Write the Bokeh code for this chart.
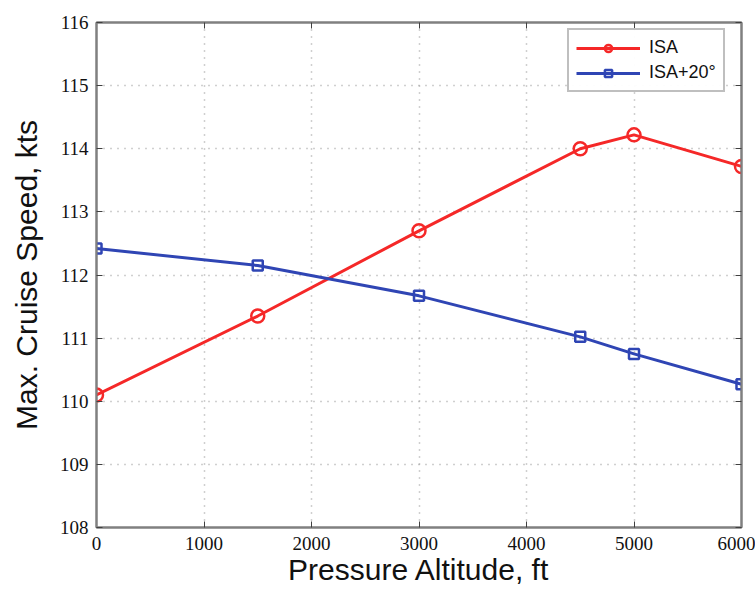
from bokeh.plotting import figure
from bokeh.models import (FixedTicker, LinearAxis, Range1d, Legend, LegendItem,
                          CustomJSTickFormatter)
from bokeh.embed import file_html
from bokeh.resources import INLINE

altitude = [0, 1500, 3000, 4500, 5000, 6000]
isa_speed = [110.1, 111.35, 112.7, 114.0, 114.22, 113.72]
isa20_speed = [112.42, 112.15, 111.67, 111.02, 110.75, 110.27]
x_ticks = [0, 1000, 2000, 3000, 4000, 5000, 6000]
y_ticks = [108, 109, 110, 111, 112, 113, 114, 115, 116]

RED = "#f52828"
BLUE = "#2f45b4"
GRAY = "#808080"

p = figure(width=755, height=591, output_backend="svg", toolbar_location=None,
           x_range=Range1d(0, 6000), y_range=Range1d(108, 116),
           min_border_left=96, min_border_right=14, min_border_top=22, min_border_bottom=64)
p.background_fill_color = "white"
p.border_fill_color = "white"
p.outline_line_color = GRAY
p.outline_line_width = 2

font = "Liberation Sans"
narrow = "Liberation Sans Narrow"

for ax in (p.xaxis[0], p.yaxis[0]):
    ax.axis_line_color = GRAY
    ax.axis_line_width = 2
    ax.major_tick_in = 6
    ax.major_tick_out = 0
    ax.minor_tick_line_color = None
    ax.major_tick_line_color = "#404040"
    ax.major_label_text_font = narrow
    ax.major_label_text_font_size = "19px"
    ax.major_label_text_color = "#111111"
    ax.axis_label_text_font = font
    ax.axis_label_text_font_size = "30px"
    ax.axis_label_text_font_style = "normal"
    ax.axis_label_text_color = "#111111"

p.xaxis.ticker = FixedTicker(ticks=x_ticks)
p.yaxis.ticker = FixedTicker(ticks=y_ticks)
p.xaxis.axis_label = "Pressure Altitude, ft"
p.yaxis.axis_label = "Max. Cruise Speed, kts"
p.xaxis.major_label_standoff = 9
p.xaxis.axis_label_standoff = 0
p.yaxis.major_label_standoff = 8
p.yaxis.axis_label_standoff = 14

blank = CustomJSTickFormatter(code="return ''")
top = LinearAxis(ticker=FixedTicker(ticks=x_ticks), formatter=blank,
                 major_tick_in=6, major_tick_out=0, minor_tick_line_color=None,
                 axis_line_color=GRAY, axis_line_width=2, major_tick_line_color="#404040",
                 major_label_standoff=0)
right = LinearAxis(ticker=FixedTicker(ticks=y_ticks), formatter=blank,
                   major_tick_in=6, major_tick_out=0, minor_tick_line_color=None,
                   axis_line_color=GRAY, axis_line_width=2, major_tick_line_color="#404040",
                   major_label_standoff=0)
p.add_layout(top, "above")
p.add_layout(right, "right")

p.xgrid.ticker = FixedTicker(ticks=x_ticks)
p.ygrid.ticker = FixedTicker(ticks=y_ticks)
for g in (p.xgrid[0], p.ygrid[0]):
    g.grid_line_color = "#a0a0a0"
    g.grid_line_dash = "1 6"
    g.grid_line_width = 1.5

l1 = p.line(altitude, isa_speed, line_color=RED, line_width=3)
m1 = p.scatter(altitude, isa_speed, marker="circle", size=13, line_color=RED,
               line_width=2.5, fill_color=None)
l2 = p.line(altitude, isa20_speed, line_color=BLUE, line_width=3)
m2 = p.scatter(altitude, isa20_speed, marker="square", size=10, line_color=BLUE,
               line_width=2.5, fill_color=None)

legend = Legend(items=[LegendItem(label="ISA", renderers=[l1, m1]),
                       LegendItem(label="ISA+20°", renderers=[l2, m2])],
                location=(471, 435))
legend.label_text_font = font
legend.label_text_font_size = "18px"
legend.label_text_color = "#111111"
legend.glyph_width = 64
legend.glyph_height = 18
legend.label_height = 18
legend.label_standoff = 9
legend.spacing = 4
legend.padding = 7
legend.margin = 0
legend.border_line_color = GRAY
legend.border_line_width = 2
legend.background_fill_color = "white"
p.add_layout(legend, "center")

open("out.html", "w").write(file_html(p, INLINE))
